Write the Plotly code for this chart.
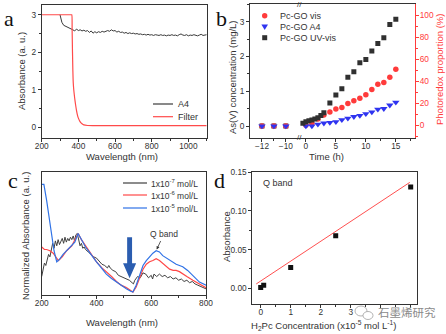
import plotly.graph_objects as go

W, H = 446, 334


def fx(p):
    return p / W


def fy(p):
    return 1 - p / H


# ---------------- panel a: transmission spectra ----------------
a4_wl = [300, 305, 310, 320, 330, 340, 350, 360, 370, 380, 390, 400, 410, 420, 430, 440,
         450, 460, 470, 480, 490, 500, 510, 520, 530, 540, 550, 560, 570, 580, 590, 600,
         610, 620, 630, 640, 650, 660, 670, 680, 690, 700, 710, 720, 730, 740, 750, 760,
         770, 780, 790, 800, 810, 820, 830, 840, 850, 860, 870, 880, 890, 900, 910, 920,
         930, 940, 950, 960, 970, 980, 990, 1000, 1010, 1020, 1030, 1040, 1050, 1060,
         1070, 1080, 1090, 1100]
a4_abs = [3.00, 2.85, 2.80, 2.72, 2.70, 2.66, 2.65, 2.62, 2.60, 2.57, 2.62, 2.58, 2.60, 2.57,
          2.59, 2.56, 2.58, 2.53, 2.57, 2.51, 2.55, 2.52, 2.55, 2.53, 2.56, 2.54, 2.57, 2.58,
          2.56, 2.60, 2.57, 2.58, 2.54, 2.56, 2.53, 2.54, 2.51, 2.53, 2.50, 2.52, 2.50, 2.51,
          2.49, 2.50, 2.48, 2.49, 2.47, 2.48, 2.46, 2.48, 2.46, 2.47, 2.45, 2.47, 2.46, 2.45,
          2.47, 2.45, 2.46, 2.44, 2.46, 2.45, 2.47, 2.45, 2.46, 2.44, 2.47, 2.49, 2.46, 2.45,
          2.47, 2.44, 2.46, 2.45, 2.47, 2.46, 2.44, 2.46, 2.48, 2.45, 2.46, 2.47]
filter_wl = [200, 360, 364, 366, 368, 370, 372, 375, 380, 385, 390, 395, 400, 410, 420, 430,
             450, 500, 1100]
filter_abs = [3.0, 3.0, 3.0, 2.6, 2.0, 1.5, 1.2, 1.0, 0.78, 0.6, 0.45, 0.33, 0.25, 0.15, 0.10,
              0.07, 0.055, 0.05, 0.05]

# ---------------- panel b: As(V) release ----------------
t_dark = [-12, -11, -10]
vis_dark = [0, 0, 0]
a4_dark = [0, 0, 0]
uv_dark = [0, 0, 0]

t_uv = [-0.5, 0, 0.5, 1, 1.5, 2, 2.5, 3, 4, 5, 6, 7, 8, 9, 10, 11, 12, 13, 14, 15]
uv_conc = [0.08, 0.12, 0.15, 0.17, 0.20, 0.24, 0.30, 0.38, 0.66, 0.89, 1.07, 1.40, 1.56, 1.82,
           1.91, 2.16, 2.37, 2.54, 2.92, 3.07]
t_vis = [0, 1, 2, 3, 4, 5, 6, 7, 8, 9, 10, 11, 12, 13, 14, 15]
vis_conc = [0.02, 0.08, 0.20, 0.32, 0.40, 0.49, 0.53, 0.65, 0.73, 0.80, 0.90, 1.05, 1.20, 1.25,
            1.40, 1.63]
t_a4 = [0, 1, 2, 3, 4, 5, 6, 7, 8, 9, 10, 11, 12, 13, 14, 15]
a4_conc = [0.0, 0.0, 0.05, 0.08, 0.10, 0.12, 0.18, 0.22, 0.27, 0.30, 0.35, 0.40, 0.48, 0.50,
           0.60, 0.68]

# ---------------- panel c: normalized absorbance ----------------
c7_wl = [200, 205, 210, 215, 220, 225, 230, 235, 240, 245, 250, 255, 260, 265, 270, 275, 280,
         285, 290, 295, 300, 305, 310, 315, 320, 325, 330, 335, 340, 345, 350, 355, 360, 370,
         380, 390, 400, 410, 420, 430, 440, 445, 450, 460, 470, 480, 490, 500, 510, 520, 530,
         535, 540, 550, 560, 570, 580, 590, 600, 605, 610, 620, 630, 640, 650, 660, 670, 680,
         690, 700, 710, 720, 730, 740, 750, 760, 770, 780, 790, 800]
c7_abs = [0.15, 0.20, 0.26, 0.24, 0.30, 0.33, 0.31, 0.38, 0.42, 0.38, 0.44, 0.40, 0.45, 0.41,
          0.44, 0.46, 0.42, 0.47, 0.43, 0.46, 0.44, 0.47, 0.45, 0.48, 0.44, 0.49, 0.50, 0.44,
          0.40, 0.42, 0.38, 0.39, 0.37, 0.35, 0.33, 0.31, 0.30, 0.27, 0.25, 0.24, 0.22, 0.24,
          0.22, 0.20, 0.19, 0.16, 0.15, 0.14, 0.13, 0.12, 0.10, 0.09, 0.12, 0.15, 0.14, 0.18,
          0.17, 0.14, 0.16, 0.13, 0.17, 0.15, 0.17, 0.15, 0.16, 0.14, 0.15, 0.13, 0.14, 0.12,
          0.13, 0.11, 0.12, 0.10, 0.11, 0.09, 0.08, 0.07, 0.06, 0.05]
c6_wl = [200, 210, 218, 230, 242, 255, 261, 275, 291, 310, 325, 333, 345, 360, 370, 385, 400,
         420, 436, 455, 473, 490, 509, 525, 533, 545, 558, 570, 582, 594, 606, 618, 630, 642,
         655, 667, 680, 691, 703, 715, 730, 752, 776, 800]
c6_abs = [0.39, 0.37, 0.37, 0.36, 0.34, 0.30, 0.28, 0.31, 0.36, 0.40, 0.46, 0.50, 0.45, 0.40,
          0.37, 0.32, 0.27, 0.22, 0.19, 0.15, 0.11, 0.08, 0.06, 0.04, 0.024, 0.065, 0.15, 0.21,
          0.25, 0.27, 0.28, 0.295, 0.28, 0.255, 0.23, 0.21, 0.20, 0.20, 0.19, 0.17, 0.15, 0.12,
          0.09, 0.06]
c5_wl = [200, 208, 218, 227, 236, 245, 255, 265, 278, 291, 306, 321, 333, 342, 351, 360, 370,
         385, 400, 418, 436, 455, 473, 491, 509, 525, 533, 545, 558, 570, 582, 594, 606, 618,
         630, 642, 655, 667, 680, 691, 703, 715, 733, 752, 776, 800]
c5_abs = [0.90, 0.90, 0.77, 0.64, 0.50, 0.36, 0.27, 0.29, 0.33, 0.36, 0.40, 0.43, 0.50, 0.46,
          0.42, 0.39, 0.36, 0.31, 0.27, 0.22, 0.17, 0.135, 0.105, 0.075, 0.05, 0.03, 0.024,
          0.08, 0.17, 0.24, 0.28, 0.31, 0.34, 0.36, 0.35, 0.32, 0.30, 0.28, 0.26, 0.25, 0.24,
          0.23, 0.20, 0.16, 0.105, 0.08]

# ---------------- panel d: calibration ----------------
conc = [0.0, 0.1, 1.0, 2.5, 5.0]
q_abs = [0.001, 0.004, 0.027, 0.068, 0.131]
fit_conc = [-0.15, 4.97]
fit_abs = [0.0056, 0.137]
conc_ticks = [0, 1, 2, 3, 4, 5]
conc_ticktext = ["0", "1", "2", "3", "", ""]  # 4 and 5 sit under the watermark

FONT = "Arial, Liberation Sans, sans-serif"
SERIF = "Liberation Serif, Times New Roman, serif"
INK = "#333333"
RED = "#ff3b3b"
BLUE = "#2f34f0"
A4_COLOR = "#3a3a3a"
FILTER_COLOR = "#ff4a4a"
C7_COLOR, C6_COLOR, C5_COLOR = "#404040", "#ff4848", "#2f72e6"

fig = go.Figure()

# panel a
fig.add_trace(go.Scatter(x=a4_wl, y=a4_abs, mode="lines", line=dict(color=A4_COLOR, width=1),
                         xaxis="x", yaxis="y"))
fig.add_trace(go.Scatter(x=filter_wl, y=filter_abs, mode="lines",
                         line=dict(color=FILTER_COLOR, width=1.2, shape="spline", smoothing=0.6),
                         xaxis="x", yaxis="y"))

# panel b (dark segment on x2, illuminated segment on x3)
mk_vis = dict(symbol="circle", size=5.5, color=RED)
mk_a4 = dict(symbol="triangle-down", size=6.5, color=BLUE)
mk_uv = dict(symbol="square", size=5, color="#303030")
for xs, ys, mk, xa in [(t_dark, uv_dark, mk_uv, "x2"), (t_dark, vis_dark, mk_vis, "x2"),
                       (t_dark, a4_dark, mk_a4, "x2"), (t_vis, vis_conc, mk_vis, "x3"),
                       (t_a4, a4_conc, mk_a4, "x3"), (t_uv, uv_conc, mk_uv, "x3")]:
    fig.add_trace(go.Scatter(x=xs, y=ys, mode="markers", marker=mk, xaxis=xa, yaxis="y2"))
# empty trace so the right-hand percentage axis is rendered
fig.add_trace(go.Scatter(x=[None], y=[None], mode="markers", xaxis="x3", yaxis="y3",
                         hoverinfo="skip"))

# panel c
for xs, ys, col, w in [(c7_wl, c7_abs, C7_COLOR, 1), (c6_wl, c6_abs, C6_COLOR, 1.2),
                       (c5_wl, c5_abs, C5_COLOR, 1.2)]:
    fig.add_trace(go.Scatter(x=xs, y=ys, mode="lines", line=dict(color=col, width=w),
                             xaxis="x4", yaxis="y4"))

# panel d
fig.add_trace(go.Scatter(x=fit_conc, y=fit_abs, mode="lines", line=dict(color="#ff5050", width=1),
                         xaxis="x5", yaxis="y5"))
fig.add_trace(go.Scatter(x=conc, y=q_abs, mode="markers",
                         marker=dict(symbol="square", size=5, color="#111111"),
                         xaxis="x5", yaxis="y5"))

tickfont = dict(family=FONT, size=8.3, color=INK)
titlefont = dict(family=FONT, size=9.5, color=INK)


def axis(**kw):
    base = dict(showline=True, linecolor=INK, linewidth=1, mirror=True, ticks="outside",
                ticklen=3, tickcolor=INK, tickfont=tickfont, showgrid=False, zeroline=False,
                automargin=False)
    base.update(kw)
    return base


def xaxis(**kw):
    return axis(ticklabelstandoff=-3, **kw)


def minor(dt=None, vals=None, color=INK):
    m = dict(ticks="outside", ticklen=2, tickcolor=color)
    if dt is not None:
        m["dtick"] = dt
    if vals is not None:
        m["tickvals"] = vals
    return m


fig.update_layout(
    width=W, height=H, margin=dict(l=0, r=0, t=0, b=0, autoexpand=False),
    paper_bgcolor="white", plot_bgcolor="white", showlegend=False,
    font=dict(family=FONT, color=INK),
    # panel a
    xaxis=xaxis(domain=[fx(41.7), fx(206.7)], anchor="y", range=[200, 1100], dtick=200,
                minor=minor(100)),
    yaxis=axis(domain=[fy(137.7), fy(5)], anchor="x", range=[-0.27, 3.26], dtick=1,
               minor=minor(0.5)),
    # panel b
    xaxis2=xaxis(domain=[fx(250), fx(299)], anchor="y2", range=[-13.0, -8.9],
                 tickvals=[-12, -10], minor=minor(vals=[-11])),
    xaxis3=xaxis(domain=[fx(299), fx(415)], anchor="y2", range=[-1.15, 18.2],
                 tickvals=[0, 5, 10, 15], minor=minor(2.5)),
    yaxis2=axis(domain=[fy(137.7), fy(4.3)], anchor="x2", range=[-0.336, 3.5], dtick=1,
                mirror=False, minor=minor(0.5)),
    yaxis3=dict(overlaying="y2", side="right", anchor="x3", range=[-11.2, 109.7],
                tickvals=[0, 20, 40, 60, 80, 100], showline=True, linecolor=RED, linewidth=1,
                ticks="outside", ticklen=3, tickcolor=RED, showgrid=False, zeroline=False,
                automargin=False, ticklabelstandoff=-1,
                tickfont=dict(family=FONT, size=8.3, color=RED),
                minor=minor(10, color=RED)),
    # panel c
    xaxis4=xaxis(domain=[fx(41.7), fx(206)], anchor="y4", range=[200, 800], dtick=200,
                 minor=minor(100)),
    yaxis4=axis(domain=[fy(295), fy(172)], anchor="x4", range=[0, 1], ticks="",
                showticklabels=False),
    # panel d
    xaxis5=xaxis(domain=[fx(252.3), fx(417.3)], anchor="y5", range=[-0.28, 5.22],
                 tickvals=conc_ticks, ticktext=conc_ticktext, minor=minor(0.5)),
    yaxis5=axis(domain=[fy(304.3), fy(171.7)], anchor="x5", range=[-0.0207, 0.1508],
                dtick=0.05, tickformat=".2f", minor=minor(0.025)),
)

annotations = []
shapes = []


def label(text, x, y, font, angle=0, xanchor="center", **kw):
    d = dict(text=text, x=fx(x), y=fy(y), xref="paper", yref="paper", showarrow=False,
             font=font, textangle=angle, xanchor=xanchor, yanchor="middle")
    d.update(kw)
    annotations.append(d)


panel_font = dict(family=SERIF, size=22, color="#111")
label("a", 9, 19, panel_font)
label("b", 221, 19, panel_font)
label("c", 13, 180, panel_font)
label("d", 219, 180, panel_font)

# axis titles
label("Absorbance (a. u.)", 22, 71, titlefont, angle=-90)
label("Wavelength (nm)", 122, 156, titlefont)
label("As(V) concentration (mg/L)", 232, 77, titlefont, angle=-90)
label("Time (h)", 326, 156.5, titlefont)
label("Photoredox proportion (%)", 439, 70, dict(family=FONT, size=9.5, color=RED), angle=-90)
label("Normalized Absorbance (a. u.)", 25, 236, titlefont, angle=-90)
label("Wavelength (nm)", 122, 322, titlefont)
label("Absorbance", 226, 237, titlefont, angle=-90)
label("H<sub>2</sub>Pc Concentration (x10<sup>-5</sup> mol L<sup>-1</sup>)", 323, 325.5, titlefont)

# axis break marks
label("//", 299, 4.3, dict(family=FONT, size=8, color=INK))
label("//", 299, 137.7, dict(family=FONT, size=8, color=INK))

label("Q band", 261, 183, dict(family=FONT, size=9, color=INK), xanchor="left")

# watermark
for cx, cy, rx, ry in [(361, 311, 6, 5), (368, 315.5, 5, 4)]:
    shapes.append(dict(type="circle", xref="paper", yref="paper", x0=fx(cx - rx),
                       x1=fx(cx + rx), y0=fy(cy + ry), y1=fy(cy - ry), fillcolor="white",
                       line=dict(color="#a0a0a0", width=0.8)))
label("石墨烯研究", 376, 312, dict(family="Noto Sans CJK SC", size=11.5, color="#8a8a8a"),
      xanchor="left")

legend_font = dict(family=FONT, size=9, color=INK)


def legend_line(x0, x1, y, color, text, tx, font=legend_font, width=1.2):
    shapes.append(dict(type="line", xref="paper", yref="paper", x0=fx(x0), x1=fx(x1),
                       y0=fy(y), y1=fy(y), line=dict(color=color, width=width)))
    label(text, tx, y, font, xanchor="left")


# panel a legend
legend_line(153, 173, 104, A4_COLOR, "A4", 176)
legend_line(153, 173, 116.7, FILTER_COLOR, "Filter", 176)

# panel c legend
small_font = dict(family=FONT, size=8.5, color=INK)
legend_line(123, 147, 183, C7_COLOR, "1x10<sup>-7</sup> mol/L", 149, small_font)
legend_line(123, 147, 195, C6_COLOR, "1x10<sup>-6</sup> mol/L", 149, small_font)
legend_line(123, 147, 208, C5_COLOR, "1x10<sup>-5</sup> mol/L", 149, small_font)

# panel b legend (marker glyphs)
mx = 264.7
r = 2.7
shapes.append(dict(type="circle", xref="paper", yref="paper", x0=fx(mx - r), x1=fx(mx + r),
                   y0=fy(15.7 + r), y1=fy(15.7 - r), fillcolor=RED, line=dict(width=0)))
shapes.append(dict(type="path", xref="paper", yref="paper",
                   path=f"M {fx(mx - 3.3)} {fy(24.4)} L {fx(mx + 3.3)} {fy(24.4)} "
                        f"L {fx(mx)} {fy(30.0)} Z",
                   fillcolor=BLUE, line=dict(width=0)))
shapes.append(dict(type="rect", xref="paper", yref="paper", x0=fx(mx - 2.5), x1=fx(mx + 2.5),
                   y0=fy(37.7 + 2.5), y1=fy(37.7 - 2.5), fillcolor="#303030", line=dict(width=0)))
label("Pc-GO vis", 278, 15.7, legend_font, xanchor="left")
label("Pc-GO A4", 278, 26.7, legend_font, xanchor="left")
label("Pc-GO UV-vis", 278, 37.7, legend_font, xanchor="left")

# blue down arrow marking the dip near 530 nm
shapes.append(dict(type="path", xref="x4", yref="y4",
                   path="M 512 0.47 L 530 0.47 L 530 0.258 L 545 0.258 L 521 0.136 L 497 0.258 "
                        "L 512 0.258 Z",
                   fillcolor="#2b5db0", line=dict(width=0)))

fig.update_layout(annotations=annotations, shapes=shapes)

# Q band callout on the blue spectrum
fig.add_annotation(text="Q band", x=620, y=0.37, xref="x4", yref="y4", ax=7, ay=-15,
                   showarrow=True, arrowhead=2, arrowsize=0.8, arrowwidth=0.8,
                   arrowcolor=INK, font=dict(family=FONT, size=8.5, color=INK))

fig.write_html("out.html")
